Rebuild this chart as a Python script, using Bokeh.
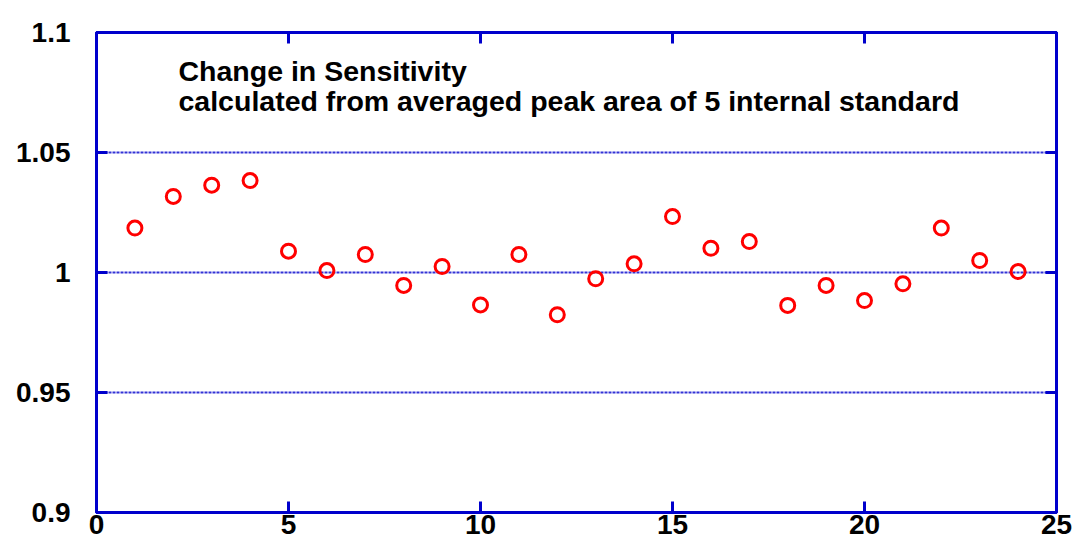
from bokeh.plotting import figure
from bokeh.models import LinearAxis, FixedTicker, Range1d, Label
from bokeh.embed import file_html
from bokeh.resources import INLINE

run = list(range(1, 25))
sensitivity = [1.0185, 1.0317, 1.0364, 1.0383, 1.0089, 1.0008, 1.0075, 0.9946,
               1.0025, 0.9865, 1.0075, 0.9824, 0.9974, 1.0036, 1.0233, 1.0101,
               1.0129, 0.9863, 0.9946, 0.9883, 0.9953, 1.0185, 1.0050, 1.0004]
x_ticks = [0, 5, 10, 15, 20, 25]
y_ticks = [0.9, 0.95, 1.0, 1.05, 1.1]
y_labels = {0.9: "0.9", 0.95: "0.95", 1.0: "1", 1.05: "1.05", 1.1: "1.1"}
title_lines = ["Change in Sensitivity",
               "calculated from averaged peak area of 5 internal standard"]

BLUE = "#0000CC"
FONT = "Liberation Sans"

p = figure(width=1078, height=546, output_backend="svg", toolbar_location=None,
           x_range=Range1d(0, 25), y_range=Range1d(0.9, 1.1),
           min_border_left=96, min_border_right=22, min_border_top=32,
           min_border_bottom=34)
p.outline_line_color = BLUE
p.outline_line_width = 3
p.background_fill_color = "white"

def style_axis(ax, ticks):
    ax.ticker = FixedTicker(ticks=ticks)
    ax.axis_line_color = BLUE
    ax.axis_line_width = 3
    ax.major_tick_line_color = BLUE
    ax.major_tick_line_width = 3
    ax.major_tick_in = 11
    ax.major_tick_out = 0
    ax.minor_tick_line_color = None
    ax.major_label_text_font = FONT
    ax.major_label_text_font_style = "bold"
    ax.major_label_text_font_size = "28px"
    ax.major_label_text_color = "black"

style_axis(p.xaxis[0], x_ticks)
p.xaxis[0].major_label_standoff = 2
style_axis(p.yaxis[0], y_ticks)
p.yaxis[0].major_label_standoff = 26
p.yaxis[0].major_label_overrides = y_labels

top = LinearAxis()
style_axis(top, x_ticks)
top.major_label_standoff = 0
top.major_label_overrides = {t: "" for t in x_ticks}
p.add_layout(top, "above")
right = LinearAxis()
style_axis(right, y_ticks)
right.major_label_standoff = 0
right.major_label_overrides = {t: "" for t in y_ticks}
p.add_layout(right, "right")

p.xgrid.grid_line_color = None
p.ygrid.ticker = FixedTicker(ticks=[0.95, 1.0, 1.05])
p.ygrid.grid_line_color = BLUE
p.ygrid.grid_line_width = 2
p.ygrid.grid_line_alpha = 0.8
p.ygrid.grid_line_dash = "3 1"

p.scatter(run, sensitivity, marker="circle", size=14, fill_color=None,
          line_color="#FF0000", line_width=3)

for i, t in enumerate(title_lines):
    p.add_layout(Label(x=82, y=442 - i * 30, x_units="screen", y_units="screen",
                       text=t, text_font=FONT, text_font_style="bold",
                       text_font_size="28.5px", text_color="black",
                       text_baseline="alphabetic"))

open("out.html", "w").write(file_html(p, INLINE))
